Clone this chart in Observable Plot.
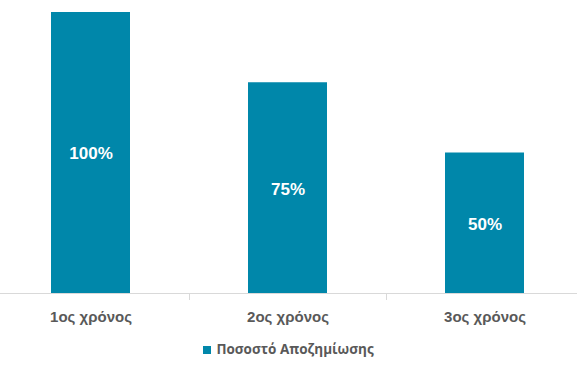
<!DOCTYPE html>
<html>
<head>
<meta charset="utf-8">
<script src="https://cdn.jsdelivr.net/npm/d3@7"></script>
<script src="https://cdn.jsdelivr.net/npm/@observablehq/plot@0.6"></script>
<style>
  body { margin: 0; background: #fff; }
  #chart { width: 577px; height: 372px; position: relative; }
  #legend { position: absolute; left: 0; width: 577px; top: 340px; text-align: center;
    font-family: "Open Sans", sans-serif; font-weight: bold; font-size: 13.5px; color: #595959; }
  #legend .sw { display: inline-block; width: 8px; height: 8px; background: #0087AA; margin-right: 5px; vertical-align: 0px; }
</style>
</head>
<body>
<div id="chart"><div id="legend"><span class="sw"></span>Ποσοστό Αποζημίωσης</div></div>
<script>
const categories = ["1ος χρόνος", "2ος χρόνος", "3ος χρόνος"];
const values = [100, 75, 50];
const seriesName = "Ποσοστό Αποζημίωσης";
const color = "#0087AA";

const data = categories.map((c, i) => ({cat: c, value: values[i]}));
const step = 197;

const plot = Plot.plot({
  width: 577,
  height: 335,
  marginLeft: 0, marginRight: 0, marginTop: 0, marginBottom: 0,
  x: {domain: categories, range: [-8.5, 582.5], paddingInner: 0.6, paddingOuter: 0.3, axis: null},
  y: {domain: [0, 100], range: [293, 12], axis: null},
  marks: [
    Plot.barY(data, {x: "cat", y: "value", fill: color}),
    Plot.ruleY([0], {stroke: "#d9d9d9", strokeWidth: 1}),
    Plot.ruleX(categories.slice(0, -1), {x: d => d, y1: 0, y2: -2.5, dx: step / 2, stroke: "#d9d9d9"}),
    Plot.text(data, {x: "cat", y: d => d.value / 2, text: d => d.value + "%", fill: "white",
      fontWeight: "bold", fontSize: 17, fontFamily: "Arial, 'Liberation Sans', sans-serif", dy: 1}),
    Plot.text(data, {x: "cat", y: 0, text: "cat", dy: 24, fill: "#595959", fontWeight: "bold", fontSize: 15,
      fontFamily: "Arial, 'Liberation Sans', sans-serif"})
  ]
});
document.getElementById("chart").prepend(plot);
</script>
</body>
</html>
